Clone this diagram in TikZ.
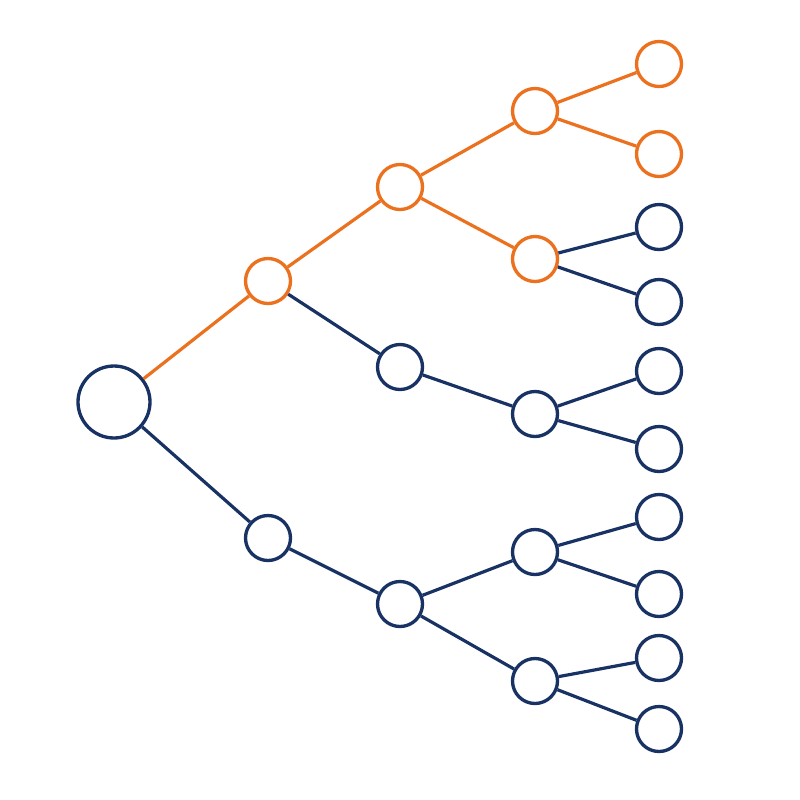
\documentclass[tikz,border=0pt]{standalone}
\usepackage{xcolor}
\usepackage{tikz}

\definecolor{treeorange}{RGB}{235,113,30}
\definecolor{treenavy}{RGB}{24,50,100}

\begin{document}
\begin{tikzpicture}[x=0.75pt,y=0.75pt,yscale=-1,xscale=1,
  orangenode/.style={circle,draw=treeorange,line width=2.5pt,fill=white,minimum size=33.75pt,inner sep=0pt},
  navynode/.style={circle,draw=treenavy,line width=2.5pt,fill=white,minimum size=33.75pt,inner sep=0pt},
  orangeline/.style={draw=treeorange,line width=2.4pt},
  navyline/.style={draw=treenavy,line width=2.4pt}]
\useasboundingbox (0,0) rectangle (800,800);

% Root
\node (root) at (114,402) [navynode,minimum size=54pt] {};
% Level 1
\node (a) at (268,281) [orangenode] {};
\node (b) at (268,538) [navynode] {};
% Level 2
\node (c) at (400,187) [orangenode] {};
\node (d) at (400,367) [navynode] {};
\node (e) at (400,604) [navynode] {};
% Level 3
\node (f) at (535,111) [orangenode] {};
\node (g) at (535,259) [orangenode] {};
\node (h) at (535,414) [navynode] {};
\node (i) at (535,552) [navynode] {};
\node (j) at (535,681) [navynode] {};
% Leaves
\node (l1) at (659,64) [orangenode] {};
\node (l2) at (659,154) [orangenode] {};
\node (l3) at (659,227) [navynode] {};
\node (l4) at (659,302) [navynode] {};
\node (l5) at (659,371) [navynode] {};
\node (l6) at (659,449) [navynode] {};
\node (l7) at (659,517) [navynode] {};
\node (l8) at (659,594) [navynode] {};
\node (l9) at (659,658) [navynode] {};
\node (l10) at (659,729) [navynode] {};

% Orange path
\draw [orangeline] (root) -- (a);
\draw [orangeline] (a) -- (c);
\draw [orangeline] (c) -- (f);
\draw [orangeline] (c) -- (g);
\draw [orangeline] (f) -- (l1);
\draw [orangeline] (f) -- (l2);
% Navy branches
\draw [navyline] (root) -- (b);
\draw [navyline] (a) -- (d);
\draw [navyline] (b) -- (e);
\draw [navyline] (d) -- (h);
\draw [navyline] (e) -- (i);
\draw [navyline] (e) -- (j);
\draw [navyline] (g) -- (l3);
\draw [navyline] (g) -- (l4);
\draw [navyline] (h) -- (l5);
\draw [navyline] (h) -- (l6);
\draw [navyline] (i) -- (l7);
\draw [navyline] (i) -- (l8);
\draw [navyline] (j) -- (l9);
\draw [navyline] (j) -- (l10);

\end{tikzpicture}
\end{document}
